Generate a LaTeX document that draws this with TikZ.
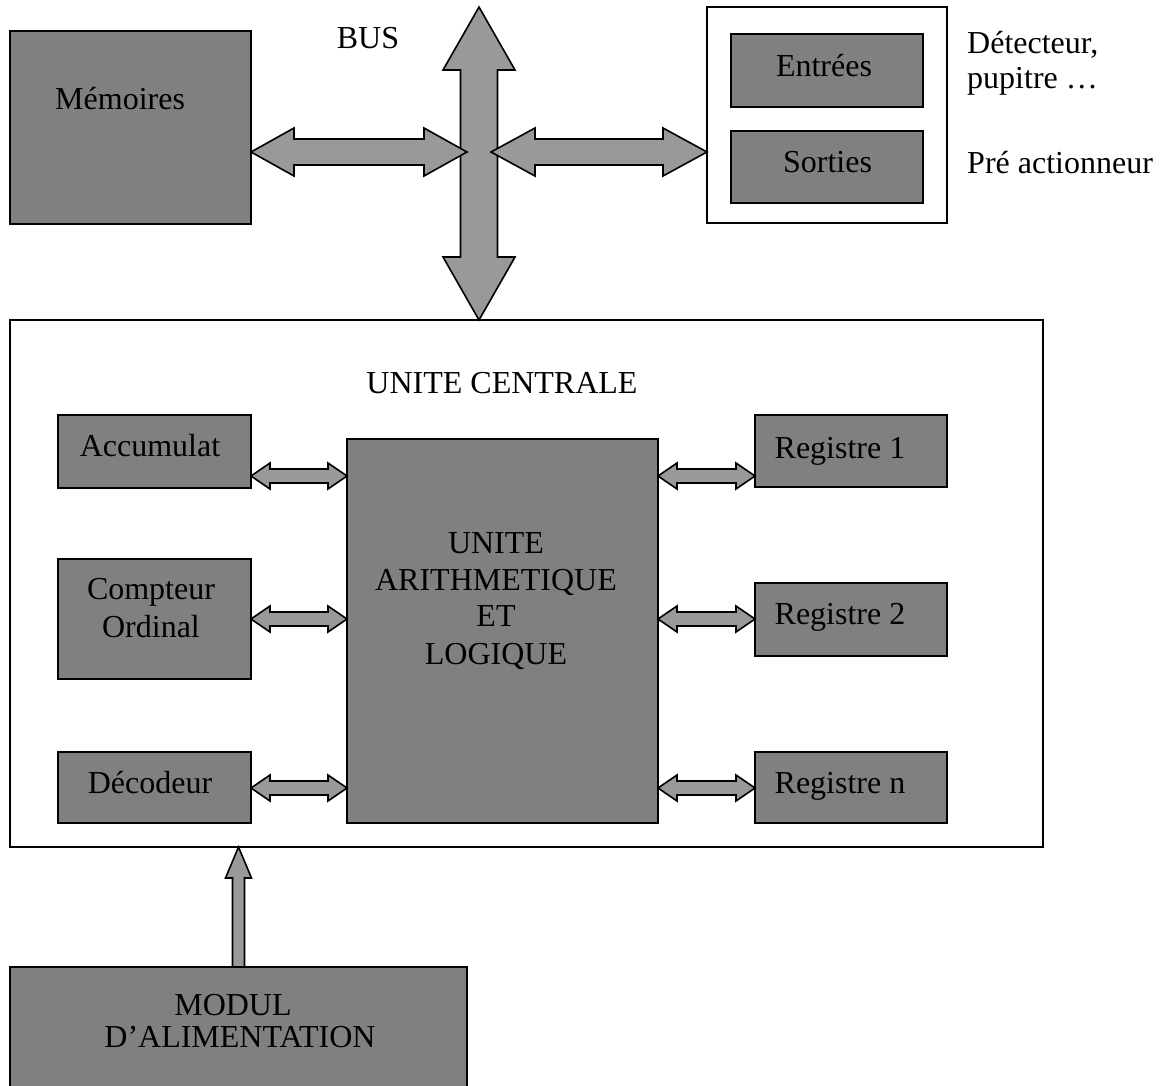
\documentclass[tikz,border=0pt]{standalone}
\usepackage{fontspec}
\setmainfont{Liberation Serif}
\usetikzlibrary{calc}
\definecolor{boxgray}{RGB}{128,128,128}
\definecolor{arrowgray}{RGB}{153,153,153}
% horizontal double arrow: #1 left tip, #2 right tip, #3 head length, #4 head half height, #5 shaft half height
\newcommand{\hdblarrow}[5]{%
  \draw[arrowshape] (#1) -- ($(#1)+(#3,-#4)$) -- ($(#1)+(#3,-#5)$) -- ($(#2)+(-#3,-#5)$) -- ($(#2)+(-#3,-#4)$) -- (#2)
    -- ($(#2)+(-#3,#4)$) -- ($(#2)+(-#3,#5)$) -- ($(#1)+(#3,#5)$) -- ($(#1)+(#3,#4)$) -- cycle;}
% vertical double arrow: #1 top tip, #2 bottom tip
\newcommand{\vdblarrow}[5]{%
  \draw[arrowshape] (#1) -- ($(#1)+(#4,#3)$) -- ($(#1)+(#5,#3)$) -- ($(#2)+(#5,-#3)$) -- ($(#2)+(#4,-#3)$) -- (#2)
    -- ($(#2)+(-#4,-#3)$) -- ($(#2)+(-#5,-#3)$) -- ($(#1)+(-#5,#3)$) -- ($(#1)+(-#4,#3)$) -- cycle;}
% single up arrow: #1 tip, #2 base centre
\newcommand{\upsinglearrow}[5]{%
  \draw[arrowshape] (#1) -- ($(#1)+(#4,#3)$) -- ($(#1)+(#5,#3)$) -- ($(#2)+(#5,0)$) -- ($(#2)+(-#5,0)$)
    -- ($(#1)+(-#5,#3)$) -- ($(#1)+(-#4,#3)$) -- cycle;}
\tikzset{
  darkbox/.style={draw=black, fill=boxgray, line width=1.6pt, rectangle, inner sep=0pt, outer sep=0pt},
  whitebox/.style={draw=black, fill=white, line width=1.6pt, rectangle, inner sep=0pt, outer sep=0pt},
  arrowshape/.style={draw=black, fill=arrowgray, line width=1.6pt, line join=miter},
  txt/.style={font=\fontsize{32}{37}\selectfont, inner sep=0pt, anchor=base, text=black},
  ltxt/.style={txt, anchor=base west}
}
\begin{document}
\begin{tikzpicture}[x=1pt,y=-1pt]
\useasboundingbox[fill=white] (0,0) rectangle (1166,1085);

% top row
\node[darkbox, minimum width=241pt, minimum height=193pt] (mem) at (130.5,127.5) {};
\node[whitebox, minimum width=240pt, minimum height=216pt] (io) at (827,115) {};
\node[darkbox, minimum width=192pt, minimum height=73pt] (ent) at (827,70.5) {};
\node[darkbox, minimum width=192pt, minimum height=72pt] (sor) at (827,167) {};

% central unit
\node[whitebox, minimum width=1033pt, minimum height=527pt] (uc) at (526.5,583.5) {};
\node[darkbox, minimum width=193pt, minimum height=73pt] (acc) at (154.5,451.5) {};
\node[darkbox, minimum width=193pt, minimum height=120pt] (cpt) at (154.5,619) {};
\node[darkbox, minimum width=193pt, minimum height=71pt] (dec) at (154.5,787.5) {};
\node[darkbox, minimum width=311pt, minimum height=384pt] (alu) at (502.5,631) {};
\node[darkbox, minimum width=192pt, minimum height=72pt] (r1) at (851,451) {};
\node[darkbox, minimum width=192pt, minimum height=73pt] (r2) at (851,619.5) {};
\node[darkbox, minimum width=192pt, minimum height=71pt] (rn) at (851,787.5) {};

% power module
\node[darkbox, minimum width=457pt, minimum height=133pt] (mod) at (238.5,1033.5) {};

% bus
\coordinate (bustop) at (479,7);
\coordinate (busx) at (479,0);
\coordinate (busL) at (467,152);
\coordinate (busR) at (491,152);
\vdblarrow{bustop}{uc.north -| busx}{63}{36}{18.5}
\hdblarrow{mem.east |- busL}{busL}{43}{24}{13}
\hdblarrow{busR}{io.west |- busR}{44}{24}{13}

% small arrows inside central unit
\coordinate (ya) at (0,476);
\coordinate (yb) at (0,619);
\coordinate (yc) at (0,788);
\hdblarrow{acc.east |- ya}{alu.west |- ya}{19}{13}{7}
\hdblarrow{cpt.east |- yb}{alu.west |- yb}{19}{13}{7}
\hdblarrow{dec.east |- yc}{alu.west |- yc}{19}{13}{7}
\hdblarrow{alu.east |- ya}{r1.west |- ya}{19}{13}{7}
\hdblarrow{alu.east |- yb}{r2.west |- yb}{19}{13}{7}
\hdblarrow{alu.east |- yc}{rn.west |- yc}{19}{13}{7}

% power arrow
\upsinglearrow{mod.north |- uc.south}{mod.north}{31}{13}{6}

% texts
\node[txt] (tbus) at (368,48) {BUS};
\node[ltxt] (tmem) at (55,109) {Mémoires};
\node[txt] (tent) at (824,76) {Entrées};
\node[txt] (tsor) at (827.5,172) {Sorties};
\node[ltxt] (tdet1) at (967,53) {Détecteur,};
\node[ltxt] (tdet2) at (967,88) {pupitre …};
\node[ltxt] (tpre) at (967,173) {Pré actionneur};
\node[txt] (tuc) at (502,393) {UNITE CENTRALE};
\node[txt] (tacc) at (150,456) {Accumulat};
\node[txt] (tcpt1) at (151,599) {Compteur};
\node[txt] (tcpt2) at (151,637) {Ordinal};
\node[txt] (tdec) at (150,793) {Décodeur};
\node[txt] (talu1) at (496,553) {UNITE};
\node[txt] (talu2) at (496,590) {ARITHMETIQUE};
\node[txt] (talu3) at (496,626) {ET};
\node[txt] (talu4) at (496,664) {LOGIQUE};
\node[txt] (tr1) at (840,458) {Registre 1};
\node[txt] (tr2) at (840,624) {Registre 2};
\node[txt] (trn) at (840,793) {Registre n};
\node[txt] (tmod1) at (233,1015) {MODUL};
\node[txt] (tmod2) at (240,1047) {D’ALIMENTATION};
\end{tikzpicture}
\end{document}
